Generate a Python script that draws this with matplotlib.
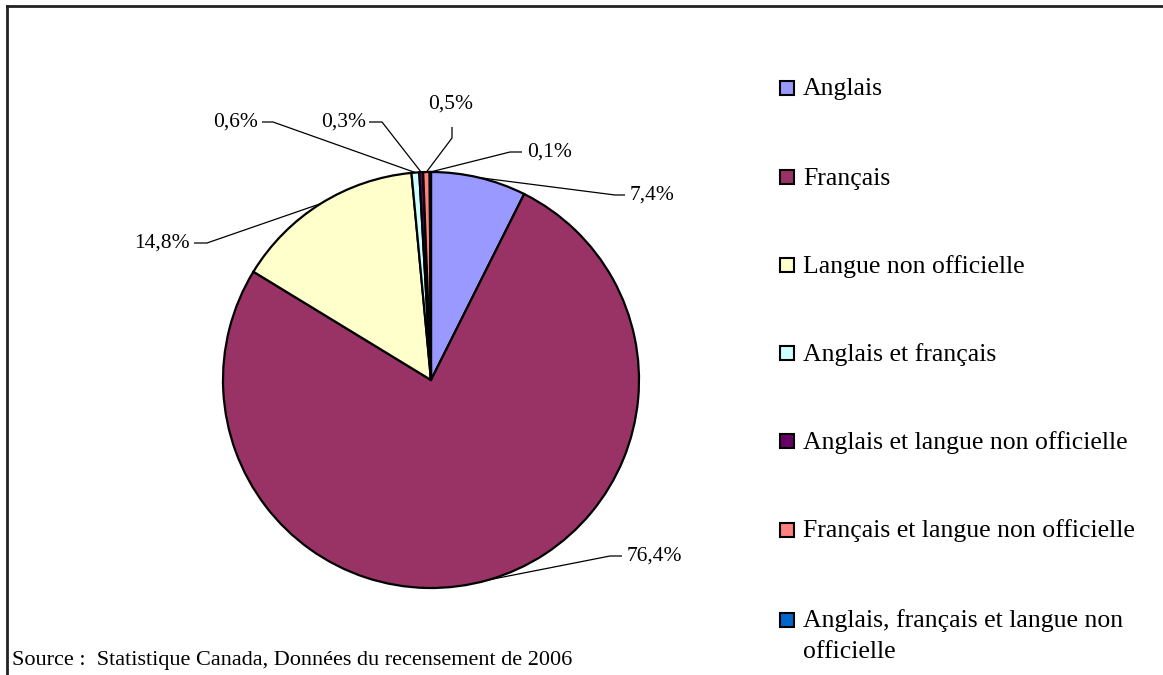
import numpy as np
import matplotlib
matplotlib.use("Agg")
import matplotlib.pyplot as plt
from matplotlib.patches import Rectangle

# data
categories = [
    "Anglais",
    "Français",
    "Langue non officielle",
    "Anglais et français",
    "Anglais et langue non officielle",
    "Français et langue non officielle",
    "Anglais, français et langue non\nofficielle",
]
values = [7.4, 76.4, 14.8, 0.6, 0.3, 0.5, 0.1]
colors = ["#9999FF", "#993366", "#FFFFCC", "#CCFFFF", "#660066", "#FF8080", "#0066CC"]

# label layout in pixel coords (x, y from top): text pos, ha, elbow, stub end
label_layout = [
    ((630, 195), "left", (625, 195), (615, 195)),
    ((627, 556), "left", (622, 556), (610, 556)),
    ((190, 243), "right", (194, 243), (207, 243)),
    ((258, 122), "right", (262, 122), (273, 122)),
    ((366, 122), "right", (369, 122), (382, 122)),
    ((451, 104), "center", (452, 127), (452, 138)),
    ((527, 152), "left", (522, 152), (510, 152)),
]

W, H = 1163, 675
plt.rcParams["font.family"] = ["Liberation Serif", "DejaVu Serif"]

fig = plt.figure(figsize=(W / 100, H / 100), dpi=100)
ax = fig.add_axes([0, 0, 1, 1])

cx, cy, r = 431, H - 380, 208
wedges, _ = ax.pie(values, colors=colors, startangle=90, counterclock=False,
                   center=(cx, cy), radius=r,
                   wedgeprops=dict(edgecolor="black", linewidth=1.6))

ax.set_xlim(0, W)
ax.set_ylim(0, H)
ax.set_aspect("equal")
ax.axis("off")

# percentage labels with leader lines
for w, v, (tpos, ha, elbow, stub) in zip(wedges, values, label_layout):
    mid = np.deg2rad((w.theta1 + w.theta2) / 2)
    ax_x = cx + r * np.cos(mid)
    ax_y = cy + r * np.sin(mid)
    xs = [ax_x, stub[0], elbow[0]]
    ys = [ax_y, H - stub[1], H - elbow[1]]
    ax.plot(xs, ys, color="black", lw=0.9, solid_capstyle="butt")
    txt = f"{v:.1f}%".replace(".", ",")
    ax.text(tpos[0], H - tpos[1], txt, ha=ha, va="center", fontsize=15.5)

# legend drawn by hand so the wrapped entry lines up with its first line
leg_y = [88, 177, 265, 353, 441, 530, 620]
for name, c, y in zip(categories, colors, leg_y):
    ax.add_patch(Rectangle((780, H - y - 7), 14, 14, facecolor=c,
                           edgecolor="black", lw=1.5, clip_on=False))
    for k, line in enumerate(name.split("\n")):
        ax.text(803, H - (y + 7.5 + 30 * k), line, ha="left", va="baseline",
                fontsize=18.5)

ax.text(12, H - 661, "Source :  Statistique Canada, Données du recensement de 2006",
        ha="left", va="center", fontsize=16)

# chart frame (top and left edges visible)
ax.plot([7, W], [H - 6, H - 6], color="#222222", lw=2, clip_on=False)
ax.plot([7, 7], [H - 6, 0], color="#222222", lw=2, clip_on=False)

fig.savefig("out.png", dpi=100)
